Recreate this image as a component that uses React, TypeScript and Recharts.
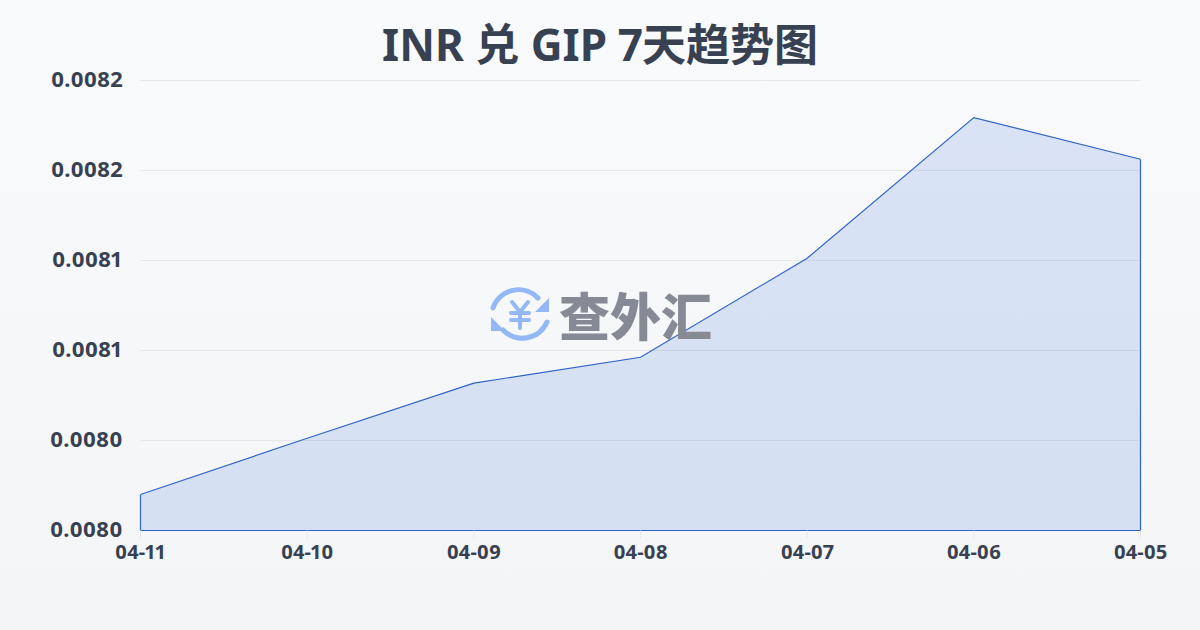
import { ComposedChart, Area, XAxis, YAxis, CartesianGrid, ReferenceLine } from 'recharts';

const dates = ['04-11', '04-10', '04-09', '04-08', '04-07', '04-06', '04-05'];
const rates = [0.008016, 0.008041, 0.0080655, 0.008077, 0.008121, 0.0081835, 0.008165];
const yTicks = [0.008, 0.00804, 0.00808, 0.00812, 0.00816, 0.0082];

const FONT = '"Noto Sans", "Noto Sans CJK SC", sans-serif';
const LINE = '#2f62c9';
const BLUE = '#93b8f5';
const INK = '#374151';

const data = dates.map((date, i) => ({ date, rate: rates[i] }));
const first = data[0];
const last = data[data.length - 1];

function Watermark() {
  return (
    <div style={{ position: 'absolute', left: 488, top: 284, width: 230, height: 62, pointerEvents: 'none' }}>
      <svg width={64} height={62} style={{ position: 'absolute', left: 0, top: 0 }}>
        <g fill="none" stroke={BLUE} strokeWidth={5} strokeLinecap="round">
          <path d="M5 24 A27 27 0 0 1 50 14" />
          <path d="M59 38 A27 27 0 0 1 15 46" />
          <path d="M24 18 L32 28 L40 18 M32 28 V44 M23 29 H41 M23 36 H41" strokeWidth={4} />
        </g>
        <path d="M61 14 L47 28 L61 28 Z" fill={BLUE} />
        <path d="M3 33 L17 47 L3 47 Z" fill={BLUE} />
      </svg>
      <div
        style={{
          position: 'absolute',
          left: 71,
          top: -5,
          fontFamily: '"Noto Sans CJK SC", sans-serif',
          fontWeight: 900,
          fontSize: 51,
          lineHeight: '70px',
          color: '#858a94',
          whiteSpace: 'nowrap',
        }}
      >
        查外汇
      </div>
    </div>
  );
}

export default function App() {
  return (
    <div
      style={{
        position: 'absolute',
        left: 0,
        top: 0,
        width: 1200,
        height: 630,
        overflow: 'hidden',
        background: 'linear-gradient(180deg, #f9fafc 0%, #f3f5f7 100%)',
        fontVariantNumeric: 'proportional-nums',
      }}
    >
      <div
        style={{
          position: 'absolute',
          top: 14,
          width: 1200,
          textAlign: 'center',
          fontFamily: FONT,
          fontWeight: 700,
          fontSize: 44,
          lineHeight: '60px',
          color: INK,
        }}
      >
        INR 兑 GIP 7天趋势图
      </div>
      <ComposedChart
        width={1200}
        height={630}
        data={data}
        margin={{ top: 80.5, right: 59.5, bottom: 0, left: 0 }}
        style={{ position: 'absolute', left: 0, top: 0 }}
      >
        <CartesianGrid stroke="#e5e7eb" vertical={false} />
        <XAxis
          dataKey="date"
          interval={0}
          height={99.5}
          scale="point"
          axisLine={false}
          tickLine={{ stroke: '#e5e7eb' }}
          tickSize={8}
          tickMargin={6}
          tick={{ fontSize: 20, fontWeight: 700, fill: INK, fontFamily: FONT }}
        />
        <YAxis
          domain={[0.008, 0.0082]}
          ticks={yTicks}
          tickFormatter={(v: number) => v.toFixed(4)}
          width={140.5}
          axisLine={false}
          tickLine={false}
          tickMargin={12}
          tick={{ fontSize: 22, fontWeight: 700, fill: INK, fontFamily: FONT, dy: -1 }}
        />
        <Area
          type="linear"
          dataKey="rate"
          baseValue={0.008}
          stroke={LINE}
          strokeWidth={1.2}
          fill="#2b66d9"
          fillOpacity={0.15}
          dot={false}
          activeDot={false}
          isAnimationActive={false}
        />
        <ReferenceLine y={0.008} stroke={LINE} strokeWidth={1.2} />
        <ReferenceLine
          segment={[{ x: first.date, y: 0.008 }, { x: first.date, y: first.rate }]}
          stroke={LINE}
          strokeWidth={1.2}
        />
        <ReferenceLine
          segment={[{ x: last.date, y: 0.008 }, { x: last.date, y: last.rate }]}
          stroke={LINE}
          strokeWidth={1.2}
        />
      </ComposedChart>
      <Watermark />
    </div>
  );
}
